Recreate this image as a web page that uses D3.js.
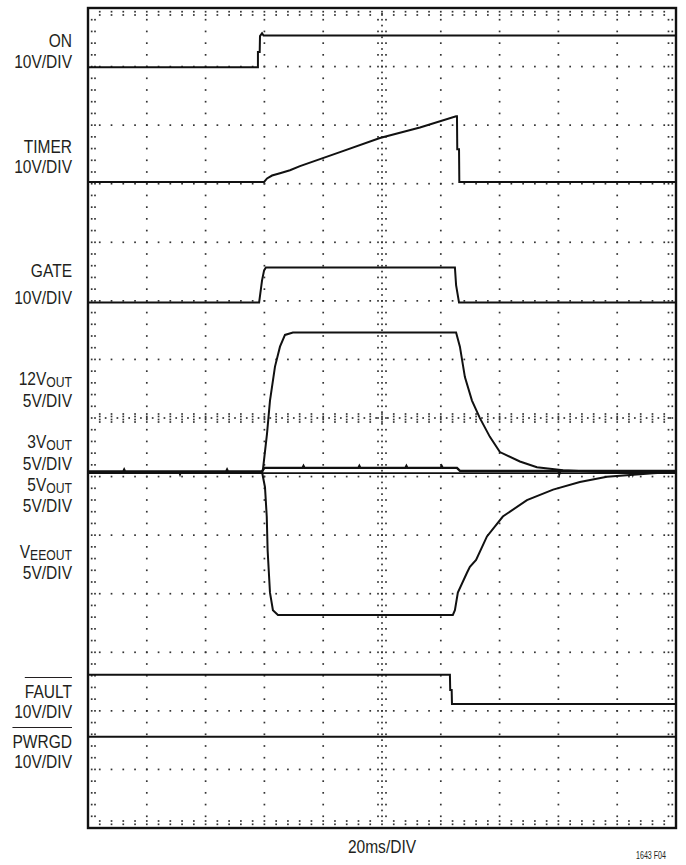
<!DOCTYPE html>
<html>
<head>
<meta charset="utf-8">
<script src="https://cdn.jsdelivr.net/npm/d3@7"></script>
<style>
  body { margin: 0; background: #fff; }
  svg { display: block; }
  text { font-family: "Liberation Sans", Arial, Helvetica, sans-serif; fill: #231f20; }
</style>
</head>
<body>
<svg class="chart"></svg>
<script>

// time in ms, values in volts
const onTrace = [[0,0],[57.8,0],[57.8,2.6],[58.4,2.6],[58.5,5.3],[59.2,5.8],[59.7,5.4],[200,5.4]]
const timerTrace = [[0,0],[59.9,0],[60.9,0.6],[62.6,1.1],[65.3,1.5],[68.7,2.0],[72.1,2.7],[85.7,5.1],[99.3,7.5],[112.9,9.3],[125.2,11.2],[125.5,11.2],[125.6,5.6],[126.2,5.6],[126.3,0],[200,0]]
const gateTrace = [[0,0],[58.2,0],[59.2,3.8],[59.9,5.5],[60.5,6.0],[124.8,6.0],[125.2,3.0],[126.2,0],[200,0]]
const v12Trace = [[0,0],[59.2,0],[59.5,0.2],[60.9,3.3],[61.9,6.1],[63.6,9.0],[65.3,10.7],[67,11.7],[69.7,11.9],[125.2,11.9],[126.5,10.7],[128.2,8.1],[130.6,6.1],[133.3,4.6],[136.7,3.0],[140.1,1.7],[146.9,0.9],[152.7,0.4],[161.6,0.15],[174.1,0],[200,0]]
const v3Trace = [[0,0.05],[12,0.05],[12.3,0.2],[12.6,0.05],[31,0.05],[31.3,-0.15],[31.6,0.05],[47,0.05],[47.3,0.2],[47.6,0.05],[59.2,0.05],[60,0.35],[73,0.35],[73.3,0.5],[73.6,0.35],[92,0.35],[92.3,0.5],[92.6,0.35],[108,0.35],[108.3,0.5],[108.6,0.35],[120,0.35],[120.3,0.5],[120.6,0.35],[125.5,0.35],[126.5,0.1],[160,0.1],[160.3,-0.15],[160.6,0.1],[185,0.1],[185.3,-0.15],[185.6,0.1],[200,0.1]]
const v5Trace = [[0,-0.1],[200,-0.1]]
const veeTrace = [[0,0],[59.2,0],[60.2,-1.3],[60.8,-3.8],[61.1,-6.7],[61.9,-10.3],[62.9,-11.8],[64.6,-12.2],[124.1,-12.2],[124.8,-11.8],[125.8,-10.3],[128.9,-8.6],[129.9,-8.1],[132,-7.5],[135.7,-5.5],[141.1,-3.8],[149.3,-2.4],[158.2,-1.5],[167.3,-0.85],[176.5,-0.4],[192.2,-0.1],[200,0]]
const faultTrace = [[0,5.0],[123.1,5.0],[123.2,2.4],[123.7,2.4],[123.8,0],[200,0]]
const pwrgdTrace = [[0,0],[200,0]]

const labelMain = ["ON", "TIMER", "GATE", "12V", "3V", "5V", "V", "FAULT", "PWRGD"]
const labelSub = ["", "", "", "OUT", "OUT", "OUT", "EEOUT", "", ""]
const labelScale = ["10V/DIV", "10V/DIV", "10V/DIV", "5V/DIV", "5V/DIV", "5V/DIV", "5V/DIV", "10V/DIV", "10V/DIV"]
const overlined = ["FAULT", "PWRGD"]
const timeLabel = "20ms/DIV"
const figLabel = "1643 F04"

const width = 686, height = 865
const frame = { left: 88, right: 676, top: 8, bottom: 828 }
const narrow = 0.84

// trace: data, zero position (divisions from bottom), volts per division
const traces = [
	{ data: onTrace, zero: 12.99, vdiv: 10, w: 2 },
	{ data: timerTrace, zero: 11.03, vdiv: 10, w: 2 },
	{ data: gateTrace, zero: 8.97, vdiv: 10, w: 2 },
	{ data: v5Trace, zero: 6.078, vdiv: 5, w: 1.6 },
	{ data: v3Trace, zero: 6.078, vdiv: 5, w: 2.4 },
	{ data: v12Trace, zero: 6.078, vdiv: 5, w: 2 },
	{ data: veeTrace, zero: 6.078, vdiv: 5, w: 2 },
	{ data: faultTrace, zero: 2.117, vdiv: 10, w: 2 },
	{ data: pwrgdTrace, zero: 1.559, vdiv: 10, w: 2 }
]

const nameY = [47, 153, 277, 385, 448, 491, 558, 698, 748]
const scaleY = [68, 173, 304, 407, 470, 512, 579, 718, 768]

var chart = d3.select(".chart")
		.attr("width", width)
		.attr("height", height)

var x = d3.scaleLinear().domain([0, 200]).range([frame.left, frame.right])
var y = d3.scaleLinear().domain([0, 14]).range([frame.bottom, frame.top])

// grid dots
var dots = []
var minorX = d3.range(4, 200, 4),
		minorY = d3.range(0.2, 14, 0.2).map(d => +d.toFixed(1)),
		majorX = d3.range(20, 200, 20).filter(d => d !== 100),
		majorY = d3.range(1, 14).filter(d => d !== 7)

majorX.forEach(t => minorY.forEach(v => dots.push([x(t), y(v)])))
majorY.forEach(v => minorX.forEach(t => dots.push([x(t), y(v)])))

minorY.forEach(v => {
	dots.push([frame.left + 3.7, y(v)], [frame.left + 7, y(v)])
	dots.push([frame.right - 3.7, y(v)], [frame.right - 7.5, y(v)])
})
minorX.forEach(t => {
	dots.push([x(t), frame.top + 3.7], [x(t), frame.top + 7])
	dots.push([x(t), frame.bottom - 3.7], [x(t), frame.bottom - 7])
})

// center cross with tick marks
var cx = x(100), cy = y(7)
minorY.forEach(v => {
	[-4, 0, 4].forEach(o => dots.push([cx + o, y(v)]))
	dots.push([cx, y(v + 0.1)])
})
minorX.forEach(t => {
	[-4, -1.5, 1.5, 4].forEach(o => dots.push([x(t), cy + o]))
	dots.push([x(t + 2), cy])
})

chart.append("g")
		.attr("class", "grid")
	.selectAll("rect")
	.data(dots)
	.enter()
	.append("rect")
		.attr("x", d => d[0] - 0.85)
		.attr("y", d => d[1] - 0.85)
		.attr("width", 1.7)
		.attr("height", 1.7)
		.attr("fill", "#333")

chart.append("rect")
		.attr("x", frame.left)
		.attr("y", frame.top)
		.attr("width", frame.right - frame.left)
		.attr("height", frame.bottom - frame.top)
		.attr("fill", "none")
		.attr("stroke", "#111")
		.attr("stroke-width", 2.4)

// traces
var line = d3.line()

chart.append("g")
		.attr("class", "traces")
	.selectAll("path")
	.data(traces)
	.enter()
	.append("path")
		.attr("fill", "none")
		.attr("stroke", "#111")
		.attr("stroke-width", d => d.w)
		.attr("stroke-linejoin", "miter")
		.attr("d", d => line(d.data.map(p => [x(p[0]), y(d.zero + p[1] / d.vdiv)])))

// labels, drawn narrow like a condensed face; name and scale share one text
var labels = chart.append("g")
		.attr("class", "labels")
		.style("font-size", "18.5px")

labelMain.forEach((name, i) => {
	var g = labels.append("g")
			.attr("transform", "translate(72," + nameY[i] + ") scale(" + narrow + ",1)")
	var t = g.append("text")
			.attr("text-anchor", "end")
	var first = t.append("tspan").attr("x", 0).text(name)
	var sub = labelSub[i] ? 2 : 0
	if (labelSub[i]) {
		t.append("tspan")
				.attr("dy", sub)
				.style("font-size", "14.5px")
				.text(labelSub[i])
	}
	t.append("tspan")
			.attr("x", 0)
			.attr("dy", scaleY[i] - nameY[i] - sub)
			.text(labelScale[i])
	if (overlined.includes(name)) {
		var w = first.node().getComputedTextLength()
		g.append("line")
				.attr("x1", -w)
				.attr("x2", 0)
				.attr("y1", -20.5)
				.attr("y2", -20.5)
				.attr("stroke", "#231f20")
				.attr("stroke-width", 1.1)
	}
})

chart.append("g")
		.attr("transform", "translate(" + x(100) + ",853) scale(" + narrow + ",1)")
	.append("text")
		.attr("text-anchor", "middle")
		.style("font-size", "18.5px")
		.text(timeLabel)

chart.append("text")
		.attr("x", 666)
		.attr("y", 859)
		.attr("text-anchor", "end")
		.style("font-size", "11.5px")
		.attr("textLength", 30)
		.attr("lengthAdjust", "spacingAndGlyphs")
		.text(figLabel)

</script>
</body>
</html>
